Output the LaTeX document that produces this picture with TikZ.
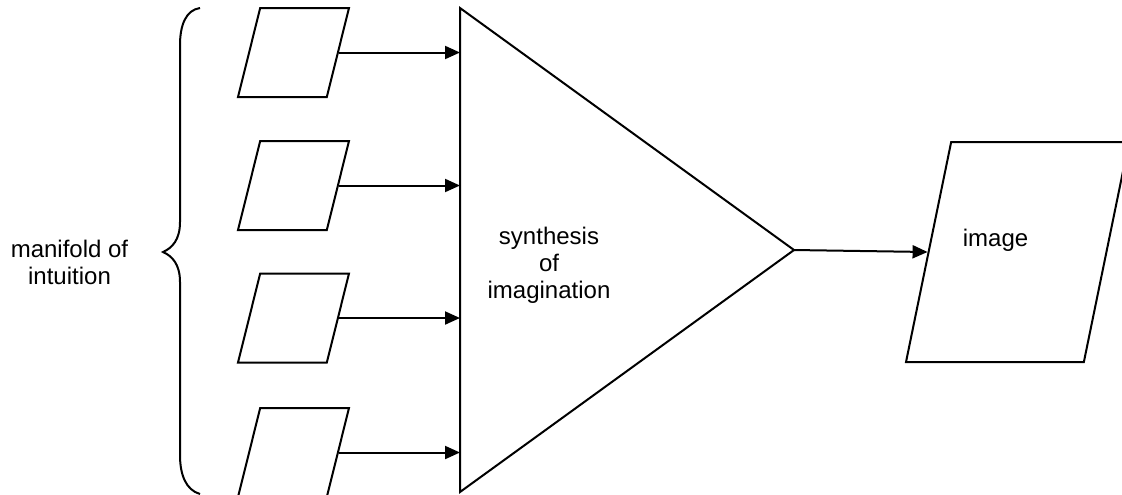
\documentclass[tikz,border=0pt]{standalone}
\usepackage{fontspec}
\setmainfont{Liberation Sans}
\usetikzlibrary{arrows.meta,shapes.geometric,calc}

\tikzset{
  inbox/.style={draw, shape=trapezium, trapezium left angle=76, trapezium right angle=104,
    trapezium stretches body, text height=44.5pt, text depth=0pt,
    minimum width=55.5pt, inner sep=0pt},
  outbox/.style={draw, shape=trapezium, trapezium left angle=78.4, trapezium right angle=101.6,
    trapezium stretches body, text height=110pt, text depth=0pt,
    minimum width=111.5pt, inner sep=0pt},
  lbl/.style={align=center, inner sep=0pt},
}

\begin{document}
\begin{tikzpicture}[x=0.5pt, y=-0.5pt, line width=1pt,
  >={Triangle[length=7.5pt,width=6.5pt]}, font=\fontsize{12}{13.5}\selectfont]
\useasboundingbox (0,0) rectangle (1122,494);
\clip (0,0) rectangle (1122,494);
    % synthesis triangle
    \coordinate (tri_top) at (460,8);
    \coordinate (tri_bot) at (460,492);
    \coordinate (tri_apex) at (794,250);
    \draw (tri_top) -- (tri_apex) -- (tri_bot) -- cycle;
    \node[lbl] (synth) at (549,265) {synthesis\\of\\imagination};
    % inputs of the manifold
    \foreach \i/\y in {1/52.5, 2/185.5, 3/318, 4/452.5} {
        \node[inbox] (in\i) at (293.5,\y) {};
        \draw[->] (in\i.east) -- (in\i.east -| tri_top);
    }
    % output image
    \node[outbox] (img) at (1017.5,252) {};
    \node[lbl] (img_text) at (995.5,240) {image};
    \draw[->] (tri_apex) -- (img.west);
    % brace and its label
    \draw (200,8) .. controls (186,10) and (180,25) .. (180,45) -- (180,222)
        .. controls (180,240) and (172,248) .. (163,252)
        .. controls (172,256) and (180,264) .. (180,282) -- (180,455)
        .. controls (180,475) and (186,490) .. (200,494);
    \node[lbl] (manifold) at (69.5,262) {manifold of\\intuition};
\end{tikzpicture}
\end{document}
